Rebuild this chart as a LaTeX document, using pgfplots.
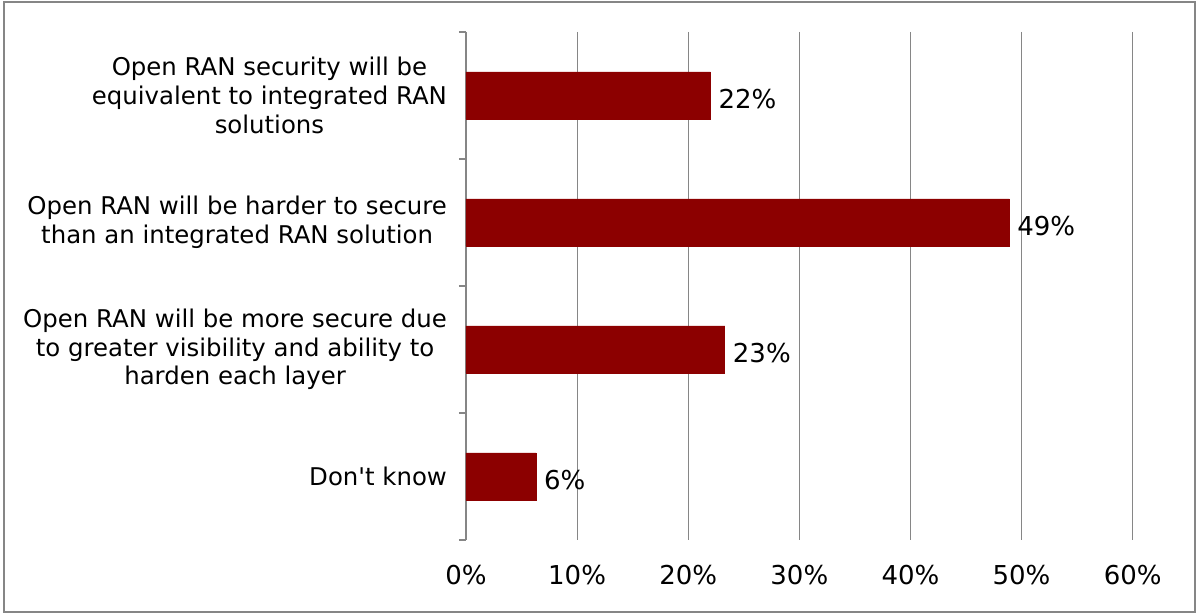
\documentclass[border=0pt]{standalone}
\usepackage{pgfplots}
\pgfplotsset{compat=1.18}
\usepackage{fontspec}
\setmainfont{DejaVu Sans}
\definecolor{barred}{RGB}{140,0,0}
\definecolor{gridgray}{RGB}{134,134,134}
\begin{document}
\begin{tikzpicture}
\begin{axis}[
  at={(0,0)}, anchor=south west,
  scale only axis,
  width=333.35pt, height=254pt,
  xbar, bar width=23.5pt,
  xmin=0, xmax=60,
  ymin=-0.5, ymax=3.5,
  y dir=reverse,
  xtick={0,10,20,30,40,50,60},
  xticklabels={0\%,10\%,20\%,30\%,40\%,50\%,60\%},
  ytick={0,1,2,3},
  ytick pos=left,
  yticklabels={{Open RAN security will be\\equivalent to integrated RAN\\solutions},
               {Open RAN will be harder to secure\\than an integrated RAN solution},
               {Open RAN will be more secure due\\to greater visibility and ability to\\harden each layer},
               {Don\textquotesingle t know}},
  yticklabel style={align=center, font=\fontsize{12.2}{14.3}\selectfont, xshift=-6pt},
  xticklabel style={font=\fontsize{13}{15}\selectfont, yshift=-9pt},
  minor ytick={-0.5,0.5,1.5,2.5,3.5},
  major tick length=0pt,
  minor tick length=3.5pt,
  tick align=outside,
  minor tick style={gridgray, line width=0.6pt},
  xmajorgrids,
  grid style={gridgray, line width=0.6pt},
  axis line style={draw=none},
  point meta=explicit symbolic,
  nodes near coords={\pgfplotspointmeta\%},
  nodes near coords style={font=\fontsize{13}{15}\selectfont, anchor=west, xshift=0.5pt, yshift=-2pt},
]
\addplot[fill=barred, draw=barred] table[meta=lab] {
x y lab
22.0 0 22
48.9 1 49
23.3 2 23
6.3 3 6
};
\end{axis}
\draw[gridgray, line width=0.8pt] (-231pt,-36pt) rectangle (364.5pt,269pt);
\pgfresetboundingbox
\useasboundingbox (-233pt,-37pt) rectangle (365pt,270pt);
\end{tikzpicture}
\end{document}
